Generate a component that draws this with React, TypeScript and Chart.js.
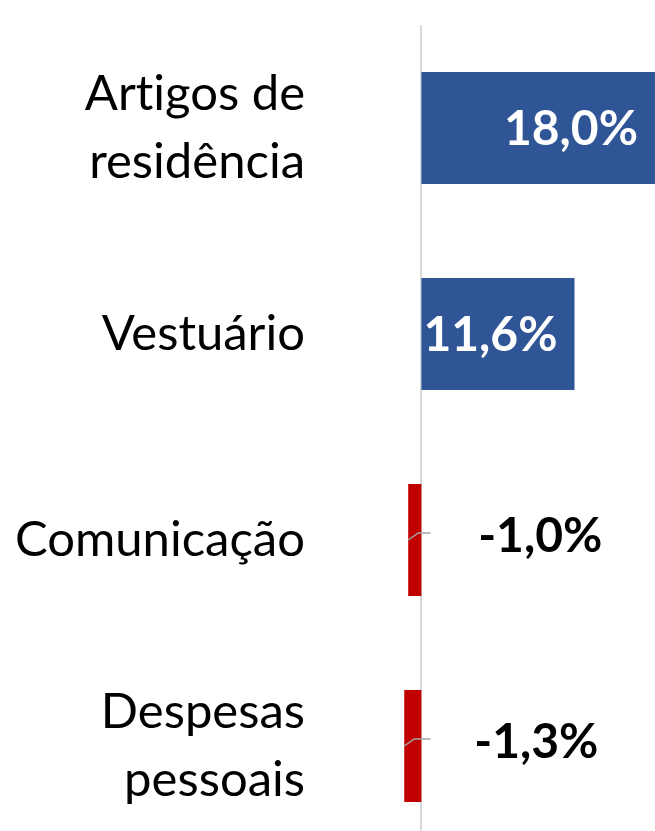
import React, { useEffect, useRef } from "react";
import { Chart, registerables } from "chart.js";

Chart.register(...registerables);

const categories: (string | string[])[] = [
  ["Artigos de", "residência"],
  "Vestuário",
  "Comunicação",
  ["Despesas", "pessoais"],
];
const values: number[] = [18.0, 11.6, -1.0, -1.3];
const valueLabels: string[] = ["18,0%", "11,6%", "-1,0%", "-1,3%"];

const BLUE = "#2F5597";
const RED = "#C00000";
const FONT = "Lato, 'Open Sans', sans-serif";

const labelPlugin = {
  id: "customLabels",
  beforeDraw(chart: any) {
    const ctx = chart.ctx;
    try {
      ctx.textRendering = "optimizeSpeed";
    } catch (e) {}
  },
  beforeDatasetsDraw(chart: any) {
    const { ctx, chartArea } = chart;
    const xs = chart.scales.x;
    const x0 = Math.round(xs.getPixelForValue(0));
    ctx.save();
    ctx.strokeStyle = "#D9D9D9";
    ctx.lineWidth = 2;
    ctx.beginPath();
    ctx.moveTo(x0, chartArea.top);
    ctx.lineTo(x0, chart.height);
    ctx.stroke();
    ctx.restore();
  },
  afterDatasetsDraw(chart: any) {
    const { ctx } = chart;
    const xs = chart.scales.x;
    const x0 = xs.getPixelForValue(0);
    const meta = chart.getDatasetMeta(0);
    ctx.save();
    ctx.font = `bold 48px ${FONT}`;
    ctx.textBaseline = "middle";
    meta.data.forEach((bar: any, i: number) => {
      const v = values[i];
      const bx = Math.min(bar.x, chart.chartArea.right);
      if (v >= 0) {
        ctx.fillStyle = "#FFFFFF";
        ctx.textAlign = "right";
        ctx.fillText(valueLabels[i], bx - 17, bar.y + 2);
      } else {
        ctx.strokeStyle = "#A6A6A6";
        ctx.lineWidth = 1.5;
        ctx.beginPath();
        ctx.moveTo(bar.x, bar.y);
        ctx.lineTo(bar.x + 10, bar.y - 7);
        ctx.lineTo(x0 + 9, bar.y - 7);
        ctx.stroke();
        ctx.fillStyle = "#000000";
        ctx.textAlign = "left";
        ctx.fillText(valueLabels[i], bar.x + 70, bar.y - 3);
      }
    });
    ctx.restore();
  },
};

export default function App() {
  const ref = useRef<HTMLCanvasElement | null>(null);
  useEffect(() => {
    if (!ref.current) return;
    const chart = new Chart(ref.current, {
      type: "bar",
      data: {
        labels: categories,
        datasets: [
          {
            data: values,
            backgroundColor: values.map((v) => (v >= 0 ? BLUE : RED)),
            borderWidth: 0,
            categoryPercentage: 1,
            barPercentage: 0.544,
          },
        ],
      },
      options: {
        indexAxis: "y",
        responsive: false,
        animation: false,
        devicePixelRatio: 1,
        layout: { padding: { top: 25, bottom: 11, left: 0, right: 0 } },
        plugins: {
          legend: { display: false },
          tooltip: { enabled: false },
        },
        scales: {
          x: {
            display: false,
            min: -2,
            max: 17.7,
          },
          y: {
            grid: { display: false, drawTicks: false },
            border: { display: false },
            ticks: {
              color: "#000000",
              padding: 90,
              font: { family: FONT, size: 49, lineHeight: 68 / 49 },
            },
            afterFit: (scale: any) => {
              scale.width = 395;
              scale.paddingTop = 0;
              scale.paddingBottom = 0;
            },
          },
        },
      },
      plugins: [labelPlugin],
    });
    let alive = true;
    if ((document as any).fonts) {
      Promise.all([
        (document as any).fonts.load(`49px Lato`),
        (document as any).fonts.load(`bold 48px Lato`),
      ]).then(() => {
        if (alive) chart.update();
      });
    }
    return () => {
      alive = false;
      chart.destroy();
    };
  }, []);
  return (
    <div
      style={{
        position: "absolute",
        top: 0,
        left: 0,
        width: 655,
        height: 831,
        overflow: "hidden",
        background: "#FFFFFF",
      }}
    >
      <canvas ref={ref} width={655} height={860} style={{ display: "block" }} />
    </div>
  );
}
